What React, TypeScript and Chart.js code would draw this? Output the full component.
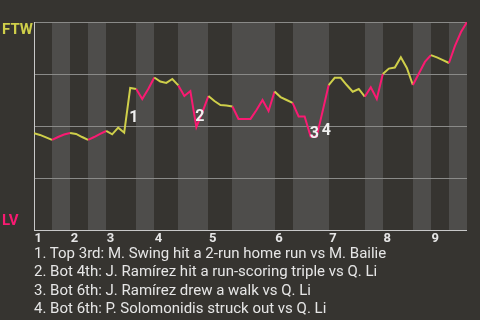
import React, { useEffect, useRef } from "react";
import { Chart, registerables } from "chart.js";

Chart.register(...registerables);

// Win probability for FTW (percent), one value per play
const winProb = [
  46.5, 45.7, 44.5, 43.3, 44.7, 45.9, 46.6, 46.2, 44.7, 43.3,
  44.7, 46.2, 47.6, 46.0, 49.2, 46.8, 68.3, 67.8, 63.0, 67.8,
  73.3, 71.4, 70.7, 72.6, 69.5, 64.4, 66.8, 49.5, 56.7, 64.4,
  62.0, 60.1, 59.9, 59.4, 53.4, 53.4, 53.4, 57.7, 62.5, 57.2,
  66.6, 63.9, 62.5, 61.1, 54.6, 54.6, 44.9, 44.9, 57.2, 69.7,
  73.2, 73.2, 69.7, 66.5, 67.8, 64.1, 68.6, 63.0, 75.0, 77.6,
  78.1, 83.0, 77.9, 69.7, 75.2, 80.8, 84.1, 83.0, 81.7, 80.3,
  88.5, 95.2, 100,
];

// play index where each half-inning starts (last = end of game)
const halfInningBounds = [0, 3, 6, 9, 12, 17, 20, 24, 29, 33, 40, 43, 49, 55, 58, 63, 66, 69, 72];
const inningLabels = ["1", "2", "3", "4", "5", "6", "7", "8", "9"];

// key plays: index of play ending the marked segment
const keyPlayIndex = [16, 27, 46, 48];
const keyPlayMarks = ["1", "2", "3", "4"];
const keyPlayNotes = [
  "1. Top 3rd: M. Swing hit a 2-run home run vs M. Bailie",
  "2. Bot 4th: J. Ramírez hit a run-scoring triple vs Q. Li",
  "3. Bot 6th: J. Ramírez drew a walk vs Q. Li",
  "4. Bot 6th: P. Solomonidis struck out vs Q. Li",
];

const awayTeam = "FTW";
const homeTeam = "LV";
const gridValues = [25, 50, 75, 100];

const BG = "#363430";
const BAND = "#4e4d4b";
const YELLOW = "#cfcf4a";
const PINK = "#fa1a72";
const GRID = "#8a8a88";
const AXIS = "#c8c8c8";
const TEXT = "#e6e6e6";
const FONT = "Roboto, 'Noto Sans', sans-serif";

function halfOf(idx: number): number {
  for (let b = 0; b < halfInningBounds.length - 1; b++) {
    if (idx >= halfInningBounds[b] && idx < halfInningBounds[b + 1]) return b;
  }
  return halfInningBounds.length - 2;
}

const wpPlugin = {
  id: "wpDecor",
  beforeDatasetsDraw(chart: any) {
    const { ctx, chartArea: a, scales } = chart;
    const x = scales.x;
    const y = scales.y;
    ctx.save();
    for (let b = 0; b < halfInningBounds.length - 1; b++) {
      if (b % 2 === 1) {
        const x0 = Math.round(x.getPixelForValue(halfInningBounds[b]));
        const x1 = Math.round(x.getPixelForValue(halfInningBounds[b + 1]));
        ctx.fillStyle = BAND;
        ctx.fillRect(x0, a.top, x1 - x0, a.bottom - a.top);
      }
    }
    ctx.fillStyle = GRID;
    for (const v of gridValues) {
      const py = Math.round(y.getPixelForValue(v));
      ctx.fillRect(a.left, py, a.right - a.left, 1);
    }
    ctx.fillStyle = AXIS;
    ctx.fillRect(a.left, a.top, 1, a.bottom - a.top);
    ctx.fillRect(a.left, a.bottom, a.right - a.left, 1);
    ctx.restore();
  },
  afterDatasetsDraw(chart: any) {
    const { ctx, scales } = chart;
    const x = scales.x;
    const y = scales.y;
    ctx.save();
    ctx.fillStyle = "#f0f0f0";
    ctx.font = `bold 16px ${FONT}`;
    ctx.textAlign = "left";
    ctx.textBaseline = "alphabetic";
    keyPlayIndex.forEach((idx, k) => {
      const mx = (x.getPixelForValue(idx - 1) + x.getPixelForValue(idx)) / 2;
      const my = (y.getPixelForValue(winProb[idx - 1]) + y.getPixelForValue(winProb[idx])) / 2;
      ctx.fillText(keyPlayMarks[k], mx + 2, my + 11.5);
    });
    ctx.restore();
  },
  afterDraw(chart: any) {
    const { ctx, chartArea: a, scales } = chart;
    const x = scales.x;
    ctx.save();
    ctx.textBaseline = "alphabetic";
    ctx.font = `bold 15px ${FONT}`;
    ctx.textAlign = "left";
    ctx.fillStyle = YELLOW;
    ctx.fillText(awayTeam, 2, a.top + 11.5);
    ctx.fillStyle = PINK;
    ctx.fillText(homeTeam, 2, a.bottom - 5);
    ctx.font = `bold 13px ${FONT}`;
    ctx.textAlign = "center";
    ctx.fillStyle = TEXT;
    inningLabels.forEach((lab, i) => {
      const px = x.getPixelForValue(halfInningBounds[i * 2]) + 4.3;
      ctx.fillText(lab, px, a.bottom + 12);
    });
    ctx.restore();
  },
};

export default function App() {
  const ref = useRef<HTMLCanvasElement | null>(null);
  useEffect(() => {
    document.body.style.margin = "0";
    document.body.style.background = BG;
    if (!ref.current) return;
    const chart = new Chart(ref.current, {
      type: "line",
      data: {
        datasets: [
          {
            data: winProb.map((v, i) => ({ x: i, y: v })),
            borderWidth: 2,
            borderColor: YELLOW,
            pointRadius: 0,
            tension: 0,
            segment: {
              borderColor: (c: any) => (halfOf(c.p0DataIndex) % 2 === 0 ? YELLOW : PINK),
            },
          },
        ],
      },
      options: {
        animation: false,
        responsive: false,
        maintainAspectRatio: false,
        devicePixelRatio: 1,
        layout: { padding: { left: 34, right: 13, top: 22, bottom: 90 } },
        plugins: { legend: { display: false }, tooltip: { enabled: false } },
        scales: {
          x: { type: "linear", min: 0, max: halfInningBounds[halfInningBounds.length - 1], display: false },
          y: { type: "linear", min: 0, max: 100, display: false },
        },
      },
      plugins: [wpPlugin],
    });
    return () => chart.destroy();
  }, []);

  return (
    <div style={{ position: "fixed", left: 0, top: 0, width: 480, height: 320, background: BG, overflow: "hidden" }}>
      <canvas ref={ref} width={480} height={320} style={{ position: "absolute", left: 0, top: 0, width: 480, height: 320 }} />
      <div
        style={{
          position: "absolute",
          left: 34,
          top: 244,
          font: `15px ${FONT}`,
          lineHeight: "18.33px",
          color: TEXT,
          whiteSpace: "nowrap",
        }}
      >
        {keyPlayNotes.map((n) => (
          <div key={n}>{n}</div>
        ))}
      </div>
    </div>
  );
}
